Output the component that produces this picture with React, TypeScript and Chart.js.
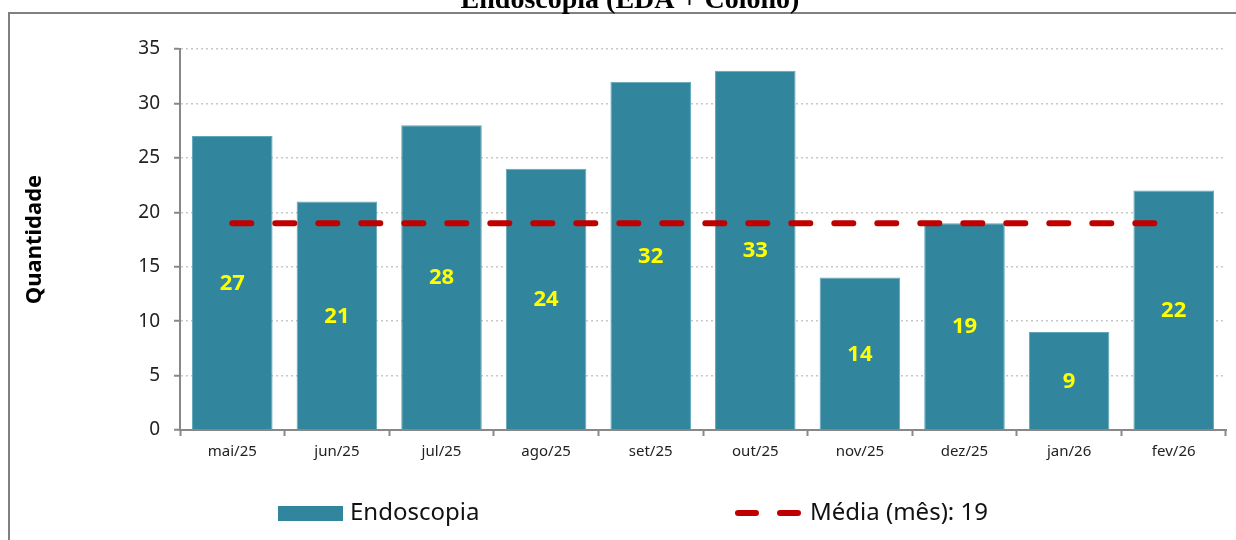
import React, { useEffect, useRef } from "react";
import { Chart, registerables } from "chart.js";

Chart.register(...registerables);

const categories = ["mai/25", "jun/25", "jul/25", "ago/25", "set/25", "out/25", "nov/25", "dez/25", "jan/26", "fev/26"];
const endoscopia = [27, 21, 28, 24, 32, 33, 14, 19, 9, 22];
const media = [19, 19, 19, 19, 19, 19, 19, 19, 19, 19];
const yTicks = [0, 5, 10, 15, 20, 25, 30, 35];
const titleText = "Endoscopia (EDA + Colono)";
const yTitle = "Quantidade";
const legendBar = "Endoscopia";
const legendLine = "Média (mês): 19";

const FONT = "'Noto Sans', sans-serif";
const BAR_COLOR = "#31859c";
const LINE_COLOR = "#c00000";

const decorPlugin = {
  id: "decor",
  beforeDraw(chart: any) {
    const ctx = chart.ctx;
    ctx.save();
    ctx.fillStyle = "#ffffff";
    ctx.fillRect(0, 0, chart.width, chart.height);
    // frame
    ctx.strokeStyle = "#808080";
    ctx.lineWidth = 2;
    ctx.beginPath();
    ctx.moveTo(9, chart.height);
    ctx.lineTo(9, 13);
    ctx.lineTo(chart.width, 13);
    ctx.stroke();
    // title (clipped at top)
    ctx.fillStyle = "#000";
    ctx.font = "bold 28px 'Liberation Serif', 'Times New Roman', serif";
    ctx.textAlign = "center";
    ctx.textBaseline = "alphabetic";
    ctx.fillText(titleText, 630, 8);
    ctx.restore();
  },
  afterDatasetsDraw(chart: any) {
    const ctx = chart.ctx;
    const meta = chart.getDatasetMeta(1);
    ctx.save();
    ctx.fillStyle = "#ffff00";
    ctx.font = "bold 22px " + FONT;
    ctx.textAlign = "center";
    ctx.textBaseline = "middle";
    meta.data.forEach((bar: any, i: number) => {
      const y = (bar.y + bar.base) / 2;
      ctx.fillText(String(endoscopia[i]), bar.x, y + 1);
    });
    ctx.restore();
  },
  afterDraw(chart: any) {
    const ctx = chart.ctx;
    ctx.save();
    // legend: bar swatch
    ctx.fillStyle = BAR_COLOR;
    ctx.fillRect(278, 506, 65, 15);
    ctx.fillStyle = "#111";
    ctx.font = "24px " + FONT;
    ctx.textAlign = "left";
    ctx.textBaseline = "middle";
    ctx.fillText(legendBar, 350, 513);
    // legend: dashed line
    ctx.strokeStyle = LINE_COLOR;
    ctx.lineWidth = 6;
    ctx.lineCap = "round";
    ctx.beginPath();
    ctx.moveTo(738, 513);
    ctx.lineTo(756, 513);
    ctx.moveTo(780, 513);
    ctx.lineTo(798, 513);
    ctx.stroke();
    ctx.fillText(legendLine, 810, 513);
    ctx.restore();
  },
};

export default function App() {
  const ref = useRef<HTMLCanvasElement>(null);
  useEffect(() => {
    if (!ref.current) return;
    const chart = new Chart(ref.current, {
      type: "bar",
      data: {
        labels: categories,
        datasets: [
          {
            type: "line",
            label: legendLine,
            data: media,
            borderColor: LINE_COLOR,
            backgroundColor: LINE_COLOR,
            borderWidth: 6,
            borderDash: [19, 24],
            borderCapStyle: "round",
            pointRadius: 0,
            fill: false,
            order: 0,
          } as any,
          {
            type: "bar",
            label: legendBar,
            data: endoscopia,
            backgroundColor: BAR_COLOR,
            borderColor: "#5fa6ba",
            borderWidth: 1,
            barPercentage: 0.77,
            categoryPercentage: 1,
            order: 1,
          },
        ],
      },
      options: {
        animation: false,
        responsive: false,
        maintainAspectRatio: false,
        layout: { padding: { top: 49, right: 10, left: 0, bottom: 0 } },
        plugins: {
          legend: { display: false },
          tooltip: { enabled: false },
          title: { display: false },
        },
        scales: {
          x: {
            grid: {
              display: true,
              drawOnChartArea: false,
              drawTicks: true,
              tickLength: 6,
              tickColor: "#888",
              tickWidth: 2,
              offset: true,
            },
            border: { display: true, color: "#888", width: 2 },
            ticks: {
              color: "#222",
              font: { family: FONT, size: 15 },
              padding: 7,
              maxRotation: 0,
              autoSkip: false,
            },
            afterFit(scale: any) {
              scale.height = 110;
            },
          },
          y: {
            min: 0,
            max: 35,
            afterBuildTicks(scale: any) {
              scale.ticks = yTicks.map((v) => ({ value: v }));
            },
            grid: {
              color: "#c8c8c8",
              lineWidth: 1.5,
              tickLength: 6,
              tickColor: "#888",
              tickWidth: 2,
            },
            border: { display: true, color: "#888", width: 2, dash: [2, 3] },
            ticks: {
              color: "#222",
              font: { family: FONT, size: 19 },
              padding: 14,
            },
            title: {
              display: true,
              text: yTitle,
              color: "#000",
              font: { family: FONT, size: 22, weight: "bold" },
              padding: { top: 22, bottom: 0 },
            },
            afterFit(scale: any) {
              scale.width = 180;
            },
          },
        },
      },
      plugins: [decorPlugin],
    });
    return () => chart.destroy();
  }, []);
  return (
    <div style={{ position: "fixed", left: 0, top: 0, width: 1236, height: 540, background: "#fff" }}>
      <canvas ref={ref} width={1236} height={540} style={{ width: 1236, height: 540, display: "block" }} />
    </div>
  );
}
